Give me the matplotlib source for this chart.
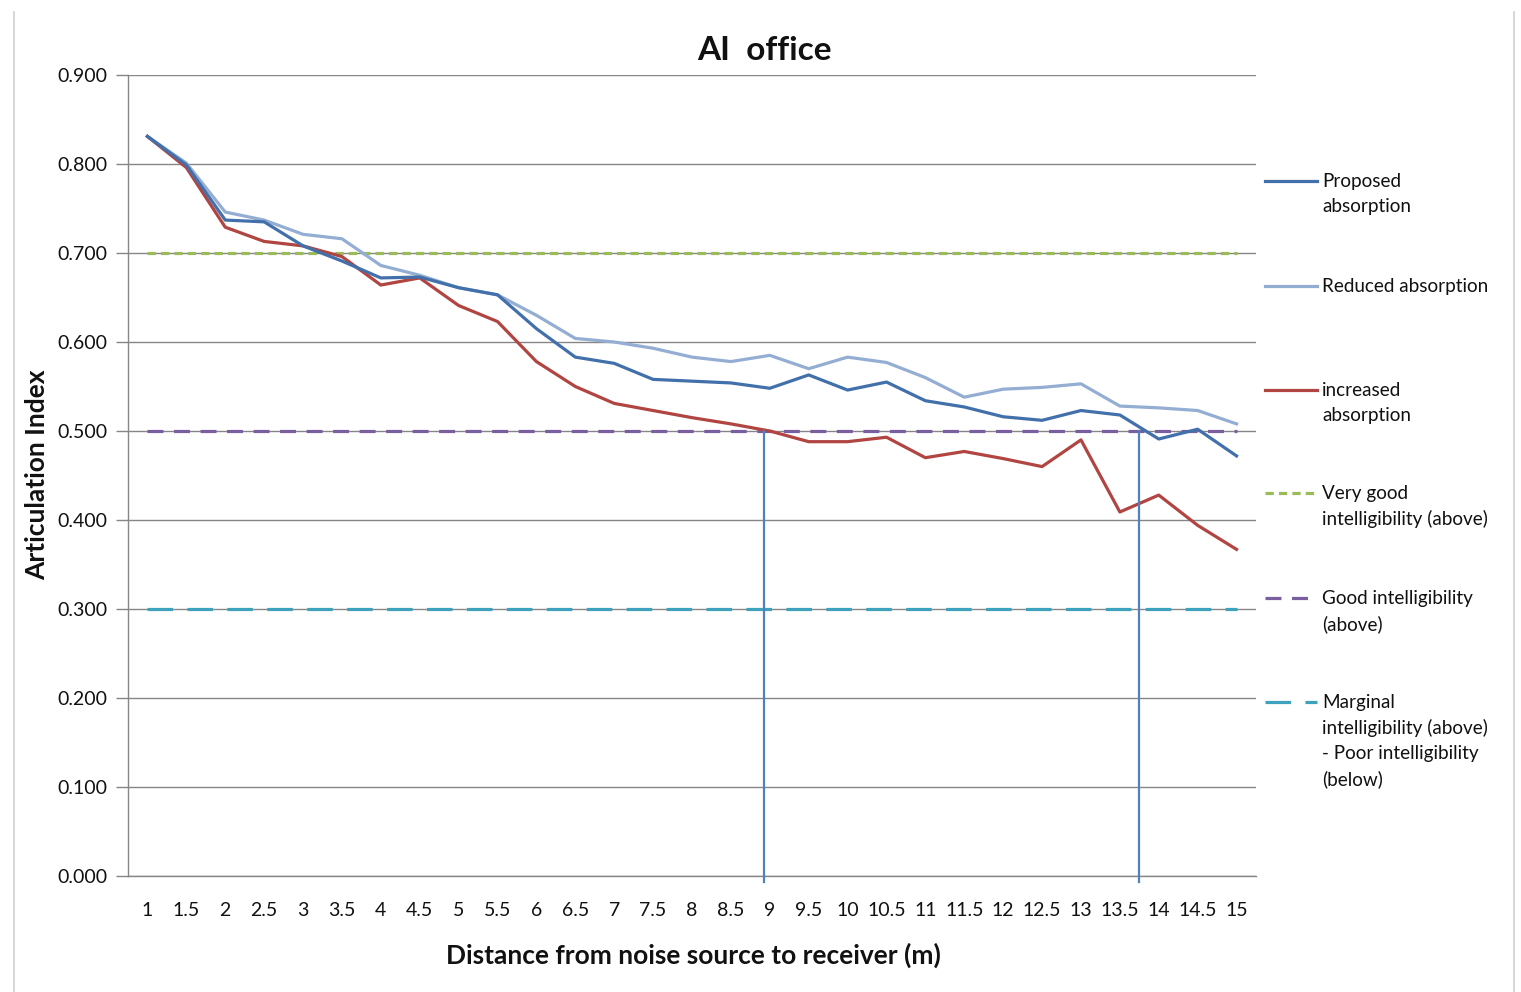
import matplotlib
matplotlib.use("Agg")
import matplotlib.pyplot as plt
from matplotlib.lines import Line2D
import numpy as np

plt.rcParams['font.family'] = ['Lato', 'DejaVu Sans']

# Distances (m) from the noise source
distances = ["1", "1.5", "2", "2.5", "3", "3.5", "4", "4.5", "5", "5.5", "6", "6.5", "7",
             "7.5", "8", "8.5", "9", "9.5", "10", "10.5", "11", "11.5", "12", "12.5", "13",
             "13.5", "14", "14.5", "15"]

proposed = [0.831, 0.799, 0.737, 0.735, 0.708, 0.691, 0.672, 0.673, 0.661, 0.653, 0.615,
            0.583, 0.576, 0.558, 0.556, 0.554, 0.548, 0.563, 0.546, 0.555, 0.534, 0.527,
            0.516, 0.512, 0.523, 0.518, 0.491, 0.502, 0.472]
reduced = [0.831, 0.801, 0.746, 0.737, 0.721, 0.716, 0.686, 0.675, 0.661, 0.653, 0.630,
           0.604, 0.600, 0.593, 0.583, 0.578, 0.585, 0.570, 0.583, 0.577, 0.560, 0.538,
           0.547, 0.549, 0.553, 0.528, 0.526, 0.523, 0.508]
increased = [0.831, 0.796, 0.729, 0.713, 0.708, 0.696, 0.664, 0.672, 0.641, 0.623, 0.578,
             0.550, 0.531, 0.523, 0.515, 0.508, 0.500, 0.488, 0.488, 0.493, 0.470, 0.477,
             0.469, 0.460, 0.490, 0.409, 0.428, 0.394, 0.367]

# Intelligibility thresholds
very_good_level = 0.700
good_level = 0.500
marginal_level = 0.300

# Distances where the curves drop below the "good" threshold
crossing_distances = [8.92, 13.75]

series_labels = ["Proposed\nabsorption", "Reduced absorption", "increased\nabsorption",
                 "Very good\nintelligibility (above)", "Good intelligibility\n(above)",
                 "Marginal\nintelligibility (above)\n- Poor intelligibility\n(below)"]

W, H = 1521, 992
fig = plt.figure(figsize=(W / 100, H / 100), dpi=100)
ax = fig.add_axes([128 / W, 1 - 876 / H, (1256 - 128) / W, (876 - 75) / H])

x = np.arange(len(distances))
n = len(distances)

c_prop = "#4270AA"
c_red = "#94AED3"
c_inc = "#B04542"
c_vg = "#9BBB59"
c_good = "#7A5FA0"
c_marg = "#3FA2BC"
lw = 2.3

styles = [
    dict(color=c_prop, lw=lw, ls="-"),
    dict(color=c_red, lw=lw, ls="-"),
    dict(color=c_inc, lw=lw, ls="-"),
    dict(color=c_vg, lw=lw, ls=(0, (2.6, 1.6))),
    dict(color=c_good, lw=lw, ls=(0, (5.0, 3.3))),
    dict(color=c_marg, lw=lw, ls=(0, (8.0, 4.5))),
]

ax.plot(x, [very_good_level] * n, **styles[3], zorder=3)
ax.plot(x, [good_level] * n, **styles[4], zorder=3)
ax.plot(x, [marginal_level] * n, **styles[5], zorder=3)
ax.plot(x, reduced, **styles[1], zorder=4)
ax.plot(x, increased, **styles[2], zorder=5)
ax.plot(x, proposed, **styles[0], zorder=6)

# Vertical markers where the good-intelligibility line is crossed
for d in crossing_distances:
    xi = (d - 1.0) * 2
    ax.plot([xi, xi], [good_level, -0.007], color="#4F81BD", lw=1.6,
            clip_on=False, zorder=7)

ax.set_xlim(-0.5, n - 0.5)
ax.set_ylim(0, 0.9)
ax.set_yticks(np.arange(0, 0.91, 0.1))
ax.set_yticklabels([f"{v:.3f}" for v in np.arange(0, 0.91, 0.1)], fontsize=14,
                   color="#111111")
ax.set_xticks(x)
ax.set_xticklabels(distances, fontsize=14, color="#111111")
ax.tick_params(axis="x", length=0, pad=19)
ax.tick_params(axis="y", length=9, width=1, color="#868686", pad=6, direction="out")
ax.yaxis.grid(True, color="#868686", lw=1)
ax.set_axisbelow(True)
for s in ["top", "right"]:
    ax.spines[s].set_visible(False)
for s in ["left", "bottom"]:
    ax.spines[s].set_color("#868686")
    ax.spines[s].set_linewidth(1)

fig.text(764 / W, 1 - 51 / H, "AI  office", ha="center", va="center",
         fontsize=24, fontweight="bold", color="#111111")
fig.text(693 / W, 1 - 955 / H, "Distance from noise source to receiver (m)",
         ha="center", va="center", fontsize=19, fontweight="bold", color="#111111")
fig.text(37 / W, 1 - 475 / H, "Articulation Index", ha="center", va="center",
         rotation=90, fontsize=19, fontweight="bold", color="#111111")

# Legend, one slot per series
slot_y = [181, 286, 390, 493, 598, 702]
for label, st, yy in zip(series_labels, styles, slot_y):
    fig.add_artist(Line2D([1265 / W, 1317 / W], [1 - yy / H, 1 - yy / H],
                          color=st["color"], lw=st["lw"], ls=st["ls"]))
    fig.text(1322 / W, 1 - (yy - 8) / H, label, ha="left", va="top",
             fontsize=13.6, color="#111111", linespacing=1.55)

# Chart frame
for xf in [14, 1514]:
    fig.add_artist(Line2D([xf / W, xf / W], [0, 1 - 12 / H], color="#D0D0D0", lw=1.2))

fig.savefig("out.png", dpi=100, facecolor="white")
